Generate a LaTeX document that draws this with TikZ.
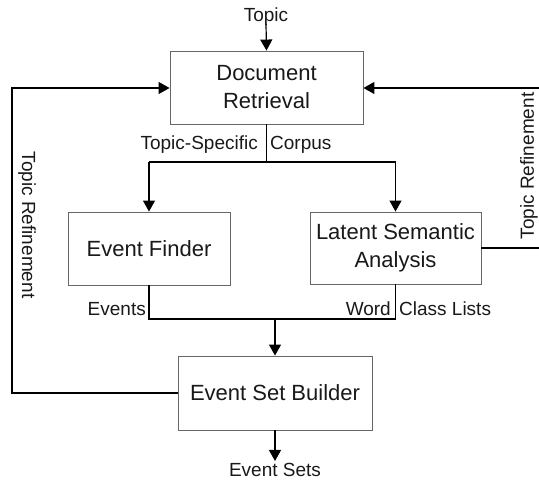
\documentclass[tikz,border=0pt]{standalone}
\usepackage{fontspec}
\setmainfont{Liberation Sans}
\usetikzlibrary{arrows.meta}
\begin{document}
\begin{tikzpicture}[x=1pt,y=-1pt,
  block/.style={draw=black!60,line width=0.9pt,fill=white,align=center,
    font=\fontsize{22}{28}\selectfont,text=black!90,inner sep=0pt},
  lbl/.style={font=\fontsize{19}{23}\selectfont,inner sep=0pt,text=black!90},
  conn/.style={line width=1.2pt,black},
  arr/.style={conn,-{Triangle[width=12pt,length=11pt]}}]
\useasboundingbox (0,0) rectangle (539,481);
\node[block,minimum width=193pt,minimum height=73pt] (dr) at (266.5,87.5) {Document\\Retrieval};
\node[block,minimum width=162pt,minimum height=73pt] (ef) at (149,248.5) {Event Finder};
\node[block,minimum width=171pt,minimum height=72pt] (lsa) at (395.5,248) {Latent Semantic\\Analysis};
\node[block,minimum width=194pt,minimum height=74pt] (esb) at (275,393) {Event Set Builder};
\node[lbl,anchor=base] (topic) at (266,21.7) {Topic};
\node[lbl,anchor=base] (es) at (275,477) {Event Sets};
\node[lbl,anchor=mid east] (ts) at (258,147) {Topic-Specific};
\node[lbl,anchor=mid west] (cp) at (270,147) {Corpus};
\node[lbl,anchor=mid east] (ev) at (146,313) {Events};
\node[lbl,anchor=mid east] (wd) at (391,313) {Word};
\node[lbl,anchor=mid west] (cl) at (399,313) {Class Lists};
\node[lbl,rotate=-90] (trl) at (27,225) {Topic Refinement};
\node[lbl,rotate=90] (trr) at (529,166) {Topic Refinement};
\coordinate (split) at (266.5,162);
\coordinate (splitL) at (149,162);
\coordinate (splitR) at (395.5,162);
\coordinate (joinL) at (149,319);
\coordinate (joinR) at (395.5,319);
\coordinate (joinM) at (275,319);
\coordinate (lb) at (12,393);
\coordinate (lt) at (12,88);
\coordinate (rb) at (541,248);
\coordinate (rt) at (541,88);
\draw[arr] (266,24) -- (dr.north);
\draw[conn] (dr.south) -- (split);
\draw[conn] (splitL) -- (splitR);
\draw[arr] (splitL) -- (ef.north);
\draw[arr] (splitR) -- (lsa.north);
\draw[conn] (ef.south) -- (joinL) -- (joinR) -- (lsa.south);
\draw[arr] (joinM) -- (esb.north);
\draw[arr] (esb.south) -- (275,461);
\draw[arr] (esb.west) -- (lb) -- (lt) -- (dr.west |- lt);
\draw[arr] (lsa.east) -- (rb) -- (rt) -- (dr.east |- rt);
\end{tikzpicture}
\end{document}
